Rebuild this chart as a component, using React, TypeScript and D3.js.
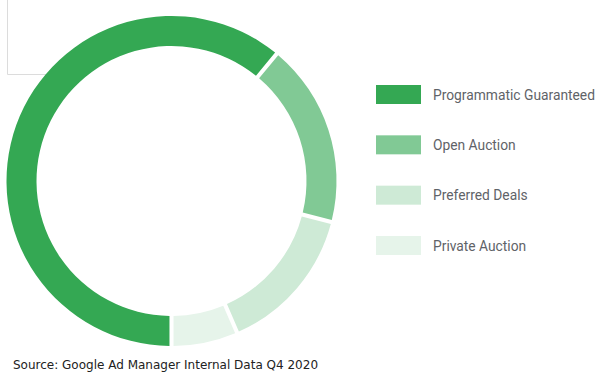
import React, { useEffect, useRef } from 'react';
import * as d3 from 'd3';

// share of impressions by deal type
const categories = ['Programmatic Guaranteed', 'Open Auction', 'Preferred Deals', 'Private Auction'];
const values = [61, 18, 14.5, 6.5];
const colors = ['#34a853', '#81c995', '#ceead6', '#e6f4ea'];
const sourceNote = 'Source: Google Ad Manager Internal Data Q4 2020';

const App = () => {
  const ref = useRef<SVGSVGElement>(null);

  useEffect(() => {
    if (!ref.current) return;
    const width = 600;
    const height = 375;
    const cx = 171.5;
    const cy = 181;
    const outer = 165;
    const inner = 135;

    const svg = d3.select(ref.current);
    svg.selectAll('*').remove();
    svg.attr('width', width).attr('height', height);

    svg.append('rect').attr('width', width).attr('height', height).attr('fill', '#fff');

    // faint frame left over in the top-left corner
    svg.append('path')
      .attr('d', 'M7.5,0 V74.5 H60')
      .attr('fill', 'none')
      .attr('stroke', '#dcdcdc')
      .attr('stroke-width', 1);

    const data = categories.map((c, i) => ({ name: c, value: values[i], color: colors[i] }));

    const pie = d3.pie<any>()
      .value(d => d.value)
      .sort(null)
      .startAngle(Math.PI)
      .endAngle(Math.PI * 3);

    const arc = d3.arc<any>()
      .innerRadius(inner)
      .outerRadius(outer)
      .padAngle(0.019);

    svg.append('g')
      .attr('transform', `translate(${cx},${cy})`)
      .selectAll('path')
      .data(pie(data))
      .enter().append('path')
      .attr('d', arc)
      .attr('fill', d => d.data.color);

    // legend
    const y = d3.scalePoint<string>().domain(categories).range([85, 236]);
    const legend = svg.append('g')
      .selectAll('g')
      .data(data)
      .enter().append('g')
      .attr('transform', d => `translate(376,${y(d.name)})`);

    legend.append('rect')
      .attr('width', 45)
      .attr('height', 19)
      .attr('fill', d => d.color);

    legend.append('text')
      .attr('x', 57)
      .attr('y', 10)
      .attr('dy', '0.33em')
      .style('font-family', 'Roboto, sans-serif')
      .style('font-size', '13.8px')
      .attr('fill', '#5f6368')
      .text(d => d.name);

    svg.append('text')
      .attr('x', 13)
      .attr('y', 368.5)
      .style('font-family', '"DejaVu Sans", Verdana, sans-serif')
      .style('font-size', '12px')
      .attr('fill', '#222')
      .text(sourceNote);
  }, []);

  return <svg ref={ref} style={{ position: 'absolute', left: 0, top: 0, display: 'block' }}></svg>;
};

export default App;
